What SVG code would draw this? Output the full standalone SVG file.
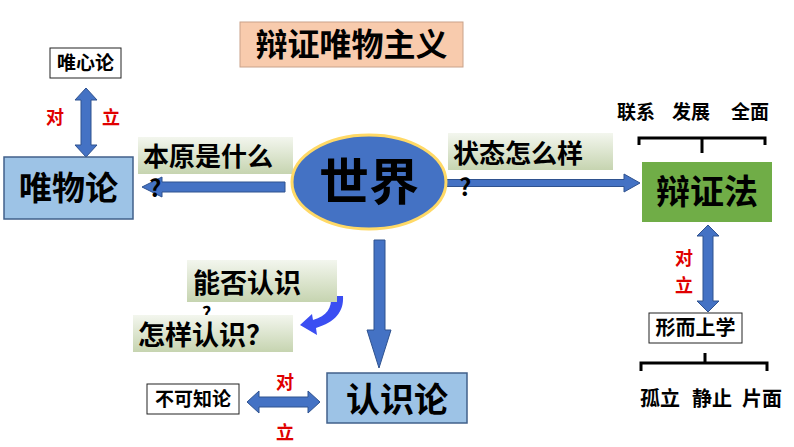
<svg xmlns="http://www.w3.org/2000/svg" width="794" height="447" viewBox="0 0 794 447">
<style>
text{font-family:"Noto Sans CJK SC","Liberation Sans",sans-serif;font-weight:700;fill:#000}
.red{fill:#e00000;font-size:18px}
.arr{fill:#4472c4;stroke:#2f528f;stroke-width:1}
.wbox{fill:#fff;stroke:#222;stroke-width:1}
.bbox{fill:#9dc3e6;stroke:#41608a;stroke-width:1.5}
.q{fill:url(#lg)}
.br{fill:none;stroke:#000;stroke-width:3}
</style>
<defs>
<linearGradient id="lg" x1="0" y1="0" x2="0" y2="1">
<stop offset="0" stop-color="#f3f6ee"/>
<stop offset="1" stop-color="#c6d4b0"/>
</linearGradient>
</defs>
<rect width="794" height="447" fill="#fff"/>

<g id="title">
<rect x="240" y="22" width="223" height="45" fill="#f8cbad" stroke="#c9a28a"/>
<text x="351.5" y="56" font-size="32" text-anchor="middle">辩证唯物主义</text>
</g>

<g id="connectors">
<polygon class="arr" points="142,187 162,177 162,182 285,182 285,192 162,192 162,197"/>
<polygon class="arr" points="446,179.5 624,179.5 624,174 640,183 624,192 624,186.5 446,186.5"/>
<polygon class="arr" points="374,240 385,240 385,330 391,330 379,368 367,330 374,330"/>
<polygon class="arr" points="86,88 97,100 91,100 91,145 97,145 86,157 75,145 81,145 81,100 75,100"/>
<polygon class="arr" points="708,225 719,236 713,236 713,301 719,301 708,312 697,301 703,301 703,236 697,236"/>
<polygon class="arr" points="247,402 259,391 259,397 308,397 308,391 320,402 308,413 308,407 259,407 259,413"/>
<path d="M331 296 L343 296 C344 312 335 322 316 328 L317 335 L300 325 L312 314 L313 320 C327 316 332 308 331 296 Z" fill="#3b4ef2"/>
<path class="br" d="M639 145 V138 H765 V145 M702 138 V153"/>
<path class="br" d="M641 371 V363 H767 V371 M705 363 V353"/>
</g>

<g id="n-weixin">
<rect class="wbox" x="50" y="48" width="71" height="30"/>
<text x="85.5" y="70" font-size="19" text-anchor="middle">唯心论</text>
<text class="red" x="55" y="124" text-anchor="middle">对</text>
<text class="red" x="111" y="124" text-anchor="middle">立</text>
</g>

<g id="n-weiwu">
<rect class="bbox" x="4" y="157" width="129" height="62"/>
<text x="68.5" y="200" font-size="33" text-anchor="middle">唯物论</text>
</g>

<g id="q-benyuan">
<rect class="q" x="138" y="137" width="155" height="37"/>
<text x="143" y="166" font-size="26">本原是什么</text>
<text x="149" y="197" font-size="24">?</text>
</g>

<g id="n-shijie">
<ellipse cx="369" cy="182" rx="77" ry="47" fill="#4472c4" stroke="#ffd966" stroke-width="3"/>
<text x="369" y="200" font-size="50" text-anchor="middle">世界</text>
</g>

<g id="q-zhuangtai">
<rect class="q" x="448" y="133" width="165" height="37"/>
<text x="453" y="163" font-size="26">状态怎么样</text>
<text x="459" y="196" font-size="24">?</text>
</g>

<g id="n-bianzheng">
<text x="617" y="119" font-size="19">联系</text>
<text x="672" y="119" font-size="19">发展</text>
<text x="731" y="119" font-size="19">全面</text>
<rect x="642" y="162" width="130" height="60" fill="#70ad47"/>
<text x="707" y="204" font-size="34" text-anchor="middle">辩证法</text>
<text class="red" x="684" y="265" text-anchor="middle">对</text>
<text class="red" x="684" y="292" text-anchor="middle">立</text>
</g>

<g id="n-xingershang">
<rect class="wbox" x="649" y="313" width="93" height="30"/>
<text x="695.5" y="335" font-size="20" text-anchor="middle">形而上学</text>
<text x="640" y="406" font-size="20">孤立</text>
<text x="692" y="406" font-size="20">静止</text>
<text x="742" y="406" font-size="20">片面</text>
</g>

<g id="q-nengfou">
<rect class="q" x="187" y="260" width="150" height="42"/>
<text x="193" y="293" font-size="27">能否认识</text>
<text x="202" y="320" font-size="18">?</text>
</g>

<g id="q-zenyang">
<rect class="q" x="133" y="315" width="160" height="37"/>
<text x="138" y="345" font-size="27">怎样认识？</text>
</g>

<g id="n-renshi">
<rect class="bbox" x="327" y="373" width="140" height="50"/>
<text x="397" y="412" font-size="34" text-anchor="middle">认识论</text>
</g>

<g id="n-bukezhi">
<rect class="wbox" x="147" y="384" width="92" height="30"/>
<text x="193" y="406" font-size="19" text-anchor="middle">不可知论</text>
<text class="red" x="285" y="389" text-anchor="middle">对</text>
<text class="red" x="285" y="439" text-anchor="middle">立</text>
</g>
</svg>
